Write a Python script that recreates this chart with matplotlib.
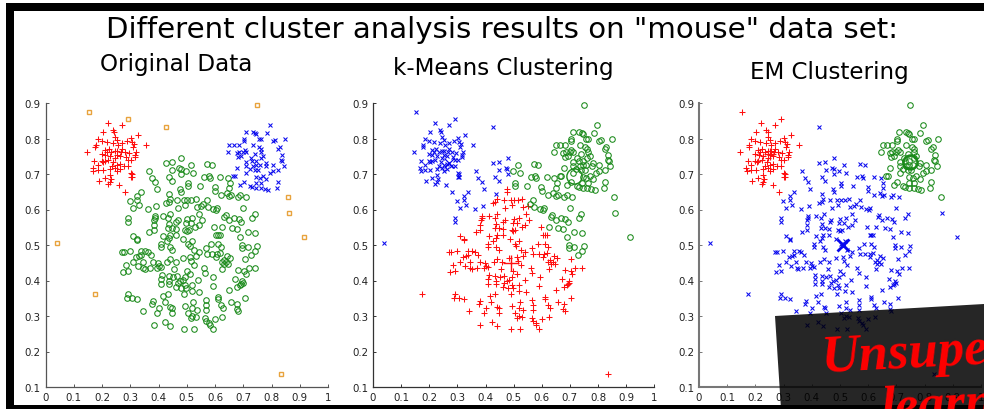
#importing libraries
import numpy as np
import matplotlib.pyplot as plt
from matplotlib.patches import Polygon, Rectangle

W, H = 984, 410

# points, one array per group of the mouse data
head_x = [0.479,0.426,0.447,0.514,0.572,0.588,0.366,0.449,0.472,0.478,0.498,0.521,0.479,0.375,0.386,0.435,0.448,0.504,0.505,0.561,0.577,0.581,0.619,0.645,0.654,
          0.546,0.599,0.651,0.394,0.475,0.478,0.601,0.338,0.322,0.436,0.621,0.641,0.65,0.657,0.68,0.688,0.709,0.298,0.323,0.33,0.308,0.441,0.427,0.435,0.465,0.489,
          0.502,0.516,0.531,0.57,0.558,0.55,0.535,0.494,0.47,0.363,0.39,0.574,0.593,0.608,0.603,0.7,0.291,0.292,0.741,0.732,0.638,0.633,0.414,0.387,0.442,0.388,0.384,
          0.468,0.463,0.432,0.5,0.52,0.496,0.513,0.544,0.554,0.542,0.529,0.649,0.667,0.683,0.692,0.596,0.626,0.659,0.677,0.436,0.382,0.367,0.382,0.434,0.448,0.461,
          0.493,0.499,0.506,0.715,0.742,0.605,0.611,0.617,0.462,0.44,0.414,0.31,0.324,0.322,0.437,0.428,0.487,0.688,0.519,0.505,0.51,0.409,0.408,0.439,0.585,0.611,
          0.621,0.567,0.696,0.696,0.716,0.75,0.743,0.448,0.271,0.276,0.298,0.338,0.353,0.361,0.542,0.526,0.57,0.59,0.607,0.617,0.729,0.338,0.329,0.32,0.373,0.485,
          0.512,0.534,0.605,0.642,0.653,0.705,0.442,0.46,0.31,0.344,0.381,0.397,0.429,0.515,0.63,0.623,0.639,0.631,0.646,0.284,0.328,0.402,0.408,0.526,0.346,0.351,
          0.368,0.395,0.456,0.562,0.626,0.743,0.719,0.682,0.703,0.709,0.274,0.291,0.499,0.566,0.511,0.413,0.435,0.45,0.466,0.593,0.495,0.41,0.475,0.485,0.539,0.437,
          0.672,0.696,0.698,0.693,0.688,0.678,0.41,0.437,0.467,0.494,0.52,0.591,0.461,0.48,0.496,0.518,0.544,0.649,0.489,0.433,0.415,0.29,0.289,0.305,0.324,0.611,
          0.611,0.705,0.38,0.377,0.421,0.522,0.567,0.657,0.678,0.569,0.495,0.4,0.442,0.448,0.52,0.535,0.568,0.621,0.629,0.676,0.682,0.343,0.394,0.449,0.504,0.52,
          0.513,0.531,0.625,0.565,0.6,0.568,0.423,0.44,0.382,0.579,0.581,0.491,0.524,0.591]
head_y = [0.745,0.731,0.734,0.724,0.727,0.726,0.708,0.711,0.716,0.714,0.709,0.703,0.7,0.689,0.678,0.692,0.68,0.676,0.667,0.692,0.693,0.688,0.692,0.689,0.674,
          0.667,0.663,0.66,0.658,0.657,0.649,0.651,0.65,0.638,0.645,0.641,0.647,0.637,0.64,0.634,0.641,0.636,0.623,0.626,0.614,0.605,0.63,0.619,0.621,0.627,0.627,
          0.626,0.626,0.629,0.626,0.616,0.61,0.607,0.614,0.605,0.602,0.61,0.606,0.602,0.605,0.6,0.604,0.575,0.565,0.588,0.575,0.584,0.578,0.583,0.583,0.588,0.576,0.57,
          0.57,0.565,0.576,0.573,0.576,0.562,0.562,0.587,0.571,0.557,0.551,0.57,0.575,0.573,0.565,0.552,0.551,0.548,0.544,0.558,0.556,0.538,0.543,0.548,0.549,0.546,
          0.542,0.539,0.541,0.536,0.534,0.529,0.527,0.527,0.529,0.528,0.525,0.525,0.518,0.514,0.52,0.51,0.517,0.522,0.51,0.503,0.498,0.503,0.493,0.495,0.502,0.503,
          0.495,0.491,0.5,0.492,0.495,0.497,0.482,0.485,0.48,0.48,0.482,0.483,0.482,0.479,0.479,0.485,0.476,0.475,0.476,0.477,0.473,0.472,0.468,0.465,0.471,0.462,
          0.467,0.47,0.465,0.468,0.464,0.461,0.461,0.453,0.453,0.451,0.453,0.448,0.451,0.455,0.459,0.453,0.451,0.446,0.446,0.445,0.442,0.442,0.439,0.444,0.435,0.432,
          0.436,0.434,0.432,0.436,0.432,0.435,0.436,0.429,0.428,0.418,0.425,0.427,0.428,0.422,0.418,0.415,0.414,0.411,0.412,0.41,0.409,0.404,0.398,0.401,0.401,0.4,
          0.403,0.399,0.394,0.39,0.387,0.383,0.389,0.39,0.394,0.388,0.387,0.384,0.381,0.38,0.378,0.371,0.367,0.373,0.363,0.362,0.357,0.362,0.351,0.351,0.349,0.354,
          0.349,0.352,0.343,0.335,0.34,0.339,0.344,0.339,0.334,0.331,0.328,0.323,0.325,0.322,0.323,0.318,0.318,0.331,0.323,0.319,0.315,0.313,0.308,0.308,0.309,0.299,
          0.294,0.297,0.297,0.293,0.292,0.287,0.284,0.273,0.276,0.28,0.275,0.263,0.263,0.264]

left_ear_x = [0.219,0.269,0.203,0.239,0.243,0.328,0.244,0.303,0.184,0.198,0.251,0.216,0.271,0.287,0.305,0.312,0.355,0.178,0.176,0.257,0.239,0.31,0.21,0.254,0.145,
              0.32,0.216,0.233,0.245,0.265,0.281,0.296,0.316,0.251,0.263,0.211,0.228,0.284,0.316,0.172,0.222,0.21,0.198,0.245,0.302,0.186,0.204,0.263,0.251,0.235,0.277,
              0.29,0.167,0.186,0.202,0.228,0.263,0.251,0.245,0.301,0.305,0.301,0.305,0.228,0.21,0.23,0.189,0.222,0.261,0.282,0.228,0.169,0.24,0.27,0.29,0.2,0.225]
left_ear_y = [0.843,0.837,0.819,0.824,0.819,0.81,0.803,0.801,0.798,0.794,0.797,0.79,0.788,0.794,0.789,0.784,0.783,0.783,0.775,0.782,0.786,0.775,0.768,0.765,0.762,
              0.762,0.763,0.763,0.765,0.761,0.763,0.76,0.754,0.754,0.752,0.753,0.752,0.747,0.747,0.738,0.74,0.738,0.738,0.744,0.74,0.726,0.733,0.728,0.726,0.723,0.723,
              0.723,0.716,0.711,0.711,0.713,0.714,0.709,0.716,0.703,0.701,0.691,0.691,0.697,0.689,0.686,0.681,0.672,0.67,0.65,0.678,0.709,0.735,0.77,0.74,0.755,0.77]

right_ear_x = [0.795,0.785,0.71,0.733,0.742,0.746,0.703,0.703,0.756,0.764,0.849,0.805,0.811,0.651,0.666,0.683,0.735,0.829,0.823,0.644,0.676,0.685,0.699,0.705,0.711,
               0.761,0.764,0.741,0.837,0.682,0.693,0.77,0.761,0.835,0.838,0.711,0.732,0.746,0.782,0.711,0.735,0.746,0.758,0.78,0.805,0.843,0.679,0.723,0.741,0.752,0.794,
               0.805,0.823,0.711,0.67,0.664,0.746,0.758,0.782,0.823,0.703,0.69,0.744,0.764,0.725,0.731,0.762,0.776,0.788,0.82,0.746,0.726,0.755,0.77]
right_ear_y = [0.838,0.816,0.817,0.819,0.815,0.813,0.8,0.794,0.8,0.799,0.799,0.794,0.795,0.783,0.782,0.782,0.783,0.777,0.77,0.763,0.759,0.763,0.761,0.769,0.763,
               0.77,0.763,0.756,0.754,0.747,0.75,0.75,0.744,0.74,0.738,0.733,0.736,0.736,0.73,0.723,0.723,0.726,0.725,0.722,0.726,0.723,0.717,0.714,0.712,0.712,0.703,
               0.709,0.712,0.703,0.695,0.695,0.691,0.688,0.686,0.678,0.677,0.67,0.676,0.676,0.665,0.662,0.66,0.658,0.656,0.661,0.66,0.745,0.775,0.695]

noise_x = [0.152,0.29,0.427,0.75,0.858,0.862,0.915,0.04,0.175,0.835]
noise_y = [0.875,0.855,0.833,0.895,0.634,0.59,0.522,0.505,0.362,0.138]

tick_x = [0,0.1,0.2,0.3,0.4,0.5,0.6,0.7,0.8,0.9,1]
tick_y = [0.1,0.2,0.3,0.4,0.5,0.6,0.7,0.8,0.9]
tick_x_labels = ['0','0.1','0.2','0.3','0.4','0.5','0.6','0.7','0.8','0.9','1']
tick_y_labels = ['0.1','0.2','0.3','0.4','0.5','0.6','0.7','0.8','0.9']

# cluster centers as drawn big in the two clustering panels
km_centers = [(0.27,0.73),(0.49,0.45),(0.715,0.695)]
em_centers = [(0.25,0.755),(0.51,0.50),(0.75,0.735)]
# noise points that EM gives to the ears
em_noise_red = [0,1]
em_noise_green = [3,4]

STYLES = {
    'red': {'marker': '+', 'color': '#ff1010', 'ms': 4.6},
    'blue': {'marker': 'x', 'color': '#0808ee', 'ms': 3.2},
    'green': {'marker': 'o', 'color': '#1a8a1a', 'ms': 4.0},
}


def px_ax(left, right):
    # axes rectangle from pixel positions of the picture
    top, bottom = 104, 388
    return [left / W, 1 - bottom / H, (right - left) / W, (bottom - top) / H]


def pts(xs, ys, ax, kind, ms=None, mew=0.75, **kw):
    st = STYLES[kind]
    ax.plot(xs, ys, ls='none', marker=st['marker'], mfc='none', mec=st['color'],
            ms=ms or st['ms'], mew=mew, clip_on=False, **kw)


def style_axes(ax, spine_color, lw):
    ax.set_xlim(0, 1)
    ax.set_ylim(0.1, 0.9)
    ax.set_xticks(tick_x)
    ax.set_yticks(tick_y)
    ax.set_xticklabels(tick_x_labels)
    ax.set_yticklabels(tick_y_labels)
    ax.spines['top'].set_visible(False)
    ax.spines['right'].set_visible(False)
    ax.spines['left'].set_color(spine_color)
    ax.spines['bottom'].set_color(spine_color)
    ax.spines['left'].set_linewidth(lw)
    ax.spines['bottom'].set_linewidth(lw)
    ax.tick_params(direction='in', length=2.5, width=0.7, color=spine_color,
                   labelsize=7.4, labelcolor='#222222', pad=3.5)
    ax.patch.set_alpha(0)


fig = plt.figure(figsize=(W / 100, H / 100), dpi=100)

ax1 = fig.add_axes(px_ax(45.7, 328))
ax2 = fig.add_axes(px_ax(373, 654.3))
ax3 = fig.add_axes(px_ax(699, 981))
style_axes(ax1, '#555555', 0.9)
style_axes(ax2, '#333333', 0.9)
style_axes(ax3, '#777777', 1.5)

hx = np.array(head_x)
hy = np.array(head_y)
rx = np.array(left_ear_x)
ry = np.array(left_ear_y)
bx = np.array(right_ear_x)
by = np.array(right_ear_y)
nx = np.array(noise_x)
ny = np.array(noise_y)

# Original data
pts(hx, hy, ax1, 'green')
pts(rx, ry, ax1, 'red')
pts(bx, by, ax1, 'blue')
ax1.plot(nx, ny, ls='none', marker='s', mfc='white', mec='#e8a33d', ms=3.4, mew=1.0, clip_on=False)

# k-Means: every point goes to the nearest center
all_x = np.concatenate([hx, rx, bx, nx])
all_y = np.concatenate([hy, ry, by, ny])
dist = np.array([(all_x - c[0]) ** 2 + (all_y - c[1]) ** 2 for c in km_centers])
labels = dist.argmin(axis=0)
pts(all_x[labels == 0], all_y[labels == 0], ax2, 'blue')
pts(all_x[labels == 1], all_y[labels == 1], ax2, 'red')
pts(all_x[labels == 2], all_y[labels == 2], ax2, 'green')
pts([km_centers[0][0]], [km_centers[0][1]], ax2, 'blue', ms=7, mew=0.9)
pts([km_centers[1][0]], [km_centers[1][1]], ax2, 'red', ms=12, mew=1.0)
pts([km_centers[2][0]], [km_centers[2][1]], ax2, 'green', ms=11, mew=1.0)

# EM clustering
rest = [i for i in range(len(nx)) if i not in em_noise_red + em_noise_green]
pts(np.concatenate([hx, nx[rest]]), np.concatenate([hy, ny[rest]]), ax3, 'blue')
pts(np.concatenate([rx, nx[em_noise_red]]), np.concatenate([ry, ny[em_noise_red]]), ax3, 'red')
pts(np.concatenate([bx, nx[em_noise_green]]), np.concatenate([by, ny[em_noise_green]]), ax3, 'green')
pts([em_centers[0][0]], [em_centers[0][1]], ax3, 'red', ms=8, mew=0.9)
pts([em_centers[1][0]], [em_centers[1][1]], ax3, 'blue', ms=9, mew=2.0)
pts([em_centers[2][0]], [em_centers[2][1]], ax3, 'green', ms=10, mew=1.8)

# titles
fig.text(502.5 / W, 1 - 30 / H, 'Different cluster analysis results on "mouse" data set:',
         ha='center', va='center', fontsize=21.1, color='black')
fig.text(176 / W, 1 - 65 / H, 'Original Data', ha='center', va='center', fontsize=16.6, color='black')
fig.text(503 / W, 1 - 69 / H, 'k-Means Clustering', ha='center', va='center', fontsize=16.6, color='black')
fig.text(829 / W, 1 - 73 / H, 'EM Clustering', ha='center', va='center', fontsize=16.6, color='black')

# black frame of the slide
for x0, y0, x1, y1 in [(6, 4, 14, 410), (6, 4, 984, 12), (6, 405.5, 984, 410)]:
    fig.add_artist(Rectangle((x0 / W, 1 - y1 / H), (x1 - x0) / W, (y1 - y0) / H,
                             transform=fig.transFigure, fc='black', ec='none', zorder=5))

# banner over the lower right corner
corners = [(775, 317), (984, 305), (984, 410), (781, 410)]
fig.add_artist(Polygon([(x / W, 1 - y / H) for x, y in corners], closed=True,
                       transform=fig.transFigure, fc='black', ec='none', alpha=0.85, zorder=6))
fig.text(822 / W, 1 - 372 / H, 'Unsupe', rotation=3, rotation_mode='anchor', ha='left', va='baseline',
         fontsize=38, color='red', family='Liberation Serif', weight='bold', style='italic', zorder=7)
fig.text(882 / W, 1 - 423 / H, 'learn', rotation=3, rotation_mode='anchor', ha='left', va='baseline',
         fontsize=38, color='red', family='Liberation Serif', weight='bold', style='italic', zorder=7)

plt.savefig('out.png', dpi=100)
